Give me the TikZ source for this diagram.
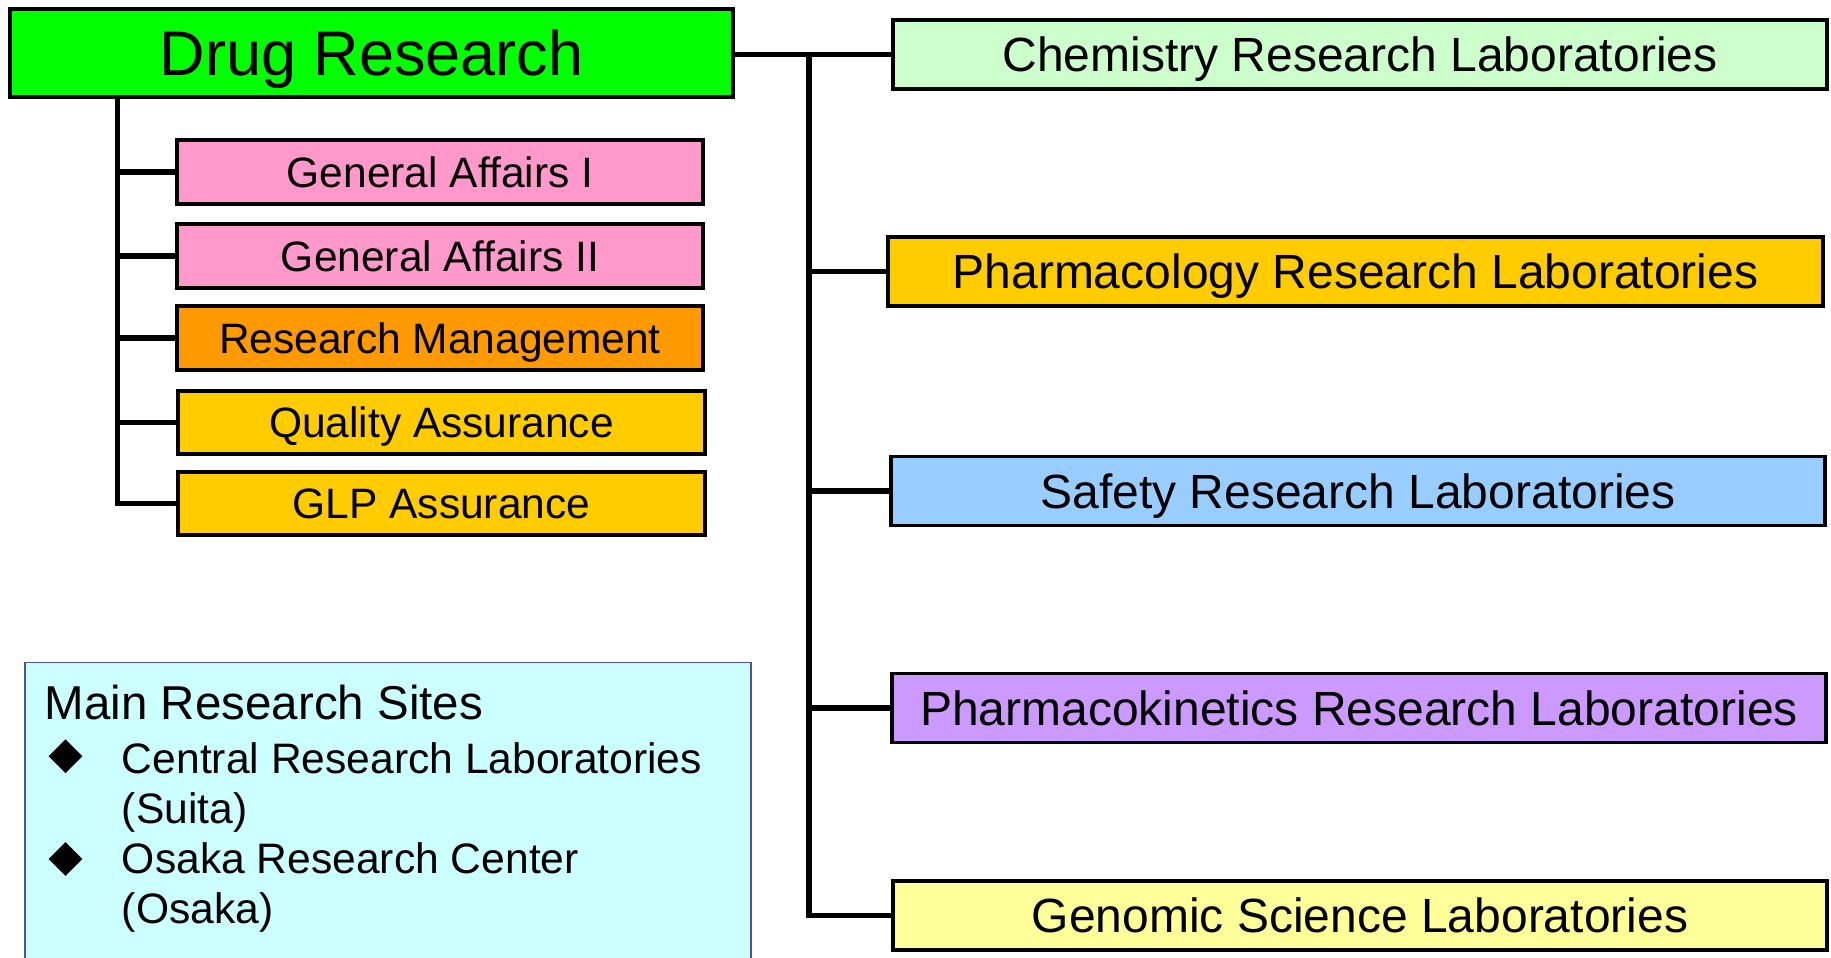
\documentclass[tikz,border=0pt]{standalone}
\usepackage{fontspec}
\setmainfont{Liberation Sans}
\usetikzlibrary{shapes.geometric}

\definecolor{drugGreen}{HTML}{00FF00}
\definecolor{gaPink}{HTML}{FF99CC}
\definecolor{rmOrange}{HTML}{FF9900}
\definecolor{qaGold}{HTML}{FFCC00}
\definecolor{chemGreen}{HTML}{CCFFCC}
\definecolor{safetyBlue}{HTML}{99CCFF}
\definecolor{pkViolet}{HTML}{CC99FF}
\definecolor{genYellow}{HTML}{FFFF99}
\definecolor{siteCyan}{HTML}{CCFFFF}
\definecolor{siteEdge}{HTML}{5050A8}

\tikzset{
  box/.style={draw=black, line width=1.9pt, inner sep=0pt, text depth=0pt},
  headbox/.style={box, minimum width=361.75pt, minimum height=44pt,
    font=\fontsize{31.5pt}{36pt}\selectfont, text height=22.55pt},
  unitbox/.style={box, minimum width=263.25pt, minimum height=31.75pt,
    font=\fontsize{21.25pt}{25pt}\selectfont, text height=15.2pt},
  labbox/.style={box, minimum width=467.25pt, minimum height=34.5pt,
    font=\fontsize{24pt}{28pt}\selectfont, text height=17.2pt},
  link/.style={draw=black, line width=2.7pt},
  bullet/.style={diamond, fill=black, inner sep=0pt, minimum width=17pt, minimum height=17pt},
  sitetext/.style={anchor=base west, inner sep=0pt, font=\fontsize{21.3pt}{25pt}\selectfont},
}

\begin{document}
\begin{tikzpicture}[x=0.5pt, y=-0.5pt]
  \useasboundingbox (0,0) rectangle (1831,958);
  \fill[white] (0,0) rectangle (1831,958);
  \clip (0,0) rectangle (1831,958);

  % head of the division
  \node[headbox, fill=drugGreen] (drug) at (371.5,53) {Drug Research};

  % staff units
  \node[unitbox, fill=gaPink]   (ga1) at (440,172)   {General Affairs I};
  \node[unitbox, fill=gaPink]   (ga2) at (440,256)   {General Affairs II};
  \node[unitbox, fill=rmOrange] (rm)  at (440,338)   {Research Management};
  \node[unitbox, fill=qaGold]   (qa)  at (441.5,422.5) {Quality Assurance};
  \node[unitbox, fill=qaGold]   (glp) at (441.5,503.5) {GLP Assurance};

  % laboratories
  \node[labbox, fill=chemGreen]  (chem)   at (1360,54.5)  {Chemistry Research Laboratories};
  \node[labbox, fill=qaGold]     (pharm)  at (1355.5,271.5) {Pharmacology Research Laboratories};
  \node[labbox, fill=safetyBlue] (safety) at (1358,491)   {Safety Research Laboratories};
  \node[labbox, fill=pkViolet]   (pk)     at (1359,708)   {Pharmacokinetics Research Laboratories};
  \node[labbox, fill=genYellow]  (genome) at (1360,915.5) {Genomic Science Laboratories};

  % staff tree
  \coordinate (lk) at (117.5,99);
  \draw[link] (lk) |- (glp.west);
  \foreach \n in {ga1,ga2,rm,qa}
    \draw[link] (lk |- \n.west) -- (\n.west);

  % laboratory tree
  \coordinate (tk) at (809,54.5);
  \draw[link] (drug.east |- chem.west) -- (chem.west);
  \draw[link] (tk) |- (genome.west);
  \foreach \n in {pharm,safety,pk}
    \draw[link] (tk |- \n.west) -- (\n.west);

  % research sites
  \node[draw=siteEdge, fill=siteCyan, line width=0.75pt, anchor=north west,
        minimum width=363pt, minimum height=160pt, inner sep=0pt] (sites) at (24,661.7) {};
  \node[anchor=base west, inner sep=0pt, font=\fontsize{23.75pt}{28pt}\selectfont]
        (sitehead) at (44.5,719) {Main Research Sites};
  \node[bullet] (b1) at (65.5,756.3) {};
  \node[sitetext] (s1a) at (121.5,773.3) {Central Research Laboratories};
  \node[sitetext] (s1b) at (121.5,823.3) {(Suita)};
  \node[bullet] (b2) at (65.5,859) {};
  \node[sitetext] (s2a) at (121.5,873.3) {Osaka Research Center};
  \node[sitetext] (s2b) at (121.5,923.3) {(Osaka)};
\end{tikzpicture}
\end{document}
